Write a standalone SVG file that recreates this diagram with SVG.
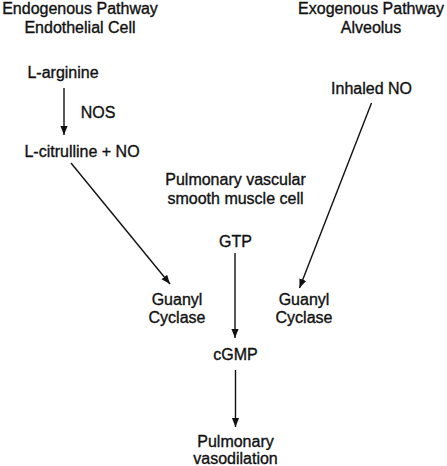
<svg xmlns="http://www.w3.org/2000/svg" width="447" height="466" viewBox="0 0 447 466">
<style>
text{font-family:"Liberation Sans",Arial,sans-serif;font-size:16px;fill:#111;stroke:#111;stroke-width:0.35;text-anchor:middle}
.c line{stroke:#111;stroke-width:1.4;fill:none}
</style>
<defs>
<marker id="ah" viewBox="0 0 10 10" refX="10" refY="5" markerWidth="9" markerHeight="9" markerUnits="userSpaceOnUse" orient="auto">
<path d="M0,1 L10,5 L0,9 Z" fill="#111"/>
</marker>
</defs>
<rect width="447" height="466" fill="#fff"/>
<g id="endo-title"><text x="80" y="14">Endogenous Pathway</text><text x="80" y="33">Endothelial Cell</text></g>
<g id="exo-title"><text x="371" y="14">Exogenous Pathway</text><text x="371" y="33">Alveolus</text></g>
<g id="larginine"><text x="63" y="78">L-arginine</text></g>
<g id="nos"><text x="98" y="118">NOS</text></g>
<g id="lcitrulline"><text x="82" y="157">L-citrulline + NO</text></g>
<g id="inhaled"><text x="371.5" y="94">Inhaled NO</text></g>
<g id="smc"><text x="235.5" y="185">Pulmonary vascular</text><text x="235.5" y="204">smooth muscle cell</text></g>
<g id="gtp"><text x="235.5" y="247">GTP</text></g>
<g id="gc-left"><text x="177" y="305">Guanyl</text><text x="177" y="323">Cyclase</text></g>
<g id="gc-right"><text x="304" y="305">Guanyl</text><text x="304" y="323">Cyclase</text></g>
<g id="cgmp"><text x="235.5" y="360">cGMP</text></g>
<g id="vaso"><text x="235.5" y="447">Pulmonary</text><text x="235.5" y="464">vasodilation</text></g>
<g class="c" id="connectors">
<line x1="64" y1="88" x2="64" y2="135" marker-end="url(#ah)"/>
<line x1="71" y1="163" x2="170" y2="284" marker-end="url(#ah)"/>
<line x1="371.5" y1="103" x2="299.5" y2="288" marker-end="url(#ah)"/>
<line x1="235" y1="253" x2="235" y2="338" marker-end="url(#ah)"/>
<line x1="235.5" y1="370" x2="235.5" y2="427" marker-end="url(#ah)"/>
</g>
</svg>
